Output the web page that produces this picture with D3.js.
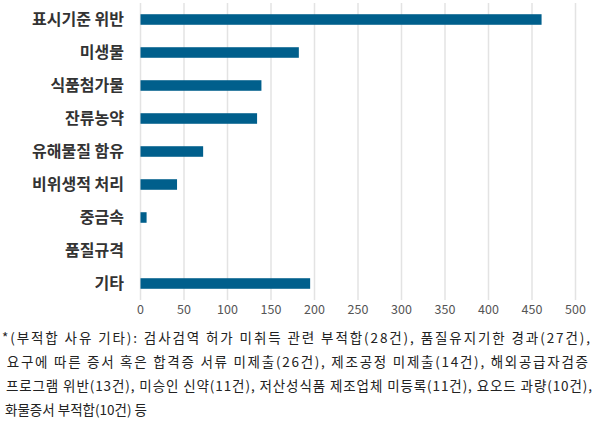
<!DOCTYPE html>
<html><head><meta charset="utf-8">
<script src="https://cdn.jsdelivr.net/npm/d3@7"></script>
<style>body{margin:0;background:#fff}text{font-family:"Noto Sans CJK KR","Noto Sans",sans-serif}</style>
</head><body><svg id="c" width="600" height="433"></svg>
<script>
// categories and counts
var categories = ["표시기준 위반","미생물","식품첨가물","잔류농약","유해물질 함유","비위생적 처리","중금속","품질규격","기타"]
var counts = [461, 182, 139, 134, 72, 42, 7, 0, 195]
var ticks = [0,50,100,150,200,250,300,350,400,450,500]
var notes = [
  "*(부적합 사유 기타): 검사검역 허가 미취득 관련 부적합(28건), 품질유지기한 경과(27건),",
  " 요구에 따른 증서 혹은 합격증 서류 미제출(26건), 제조공정 미제출(14건), 해외공급자검증",
  " 프로그램 위반(13건), 미승인 신약(11건), 저산성식품 제조업체 미등록(11건), 요오드 과량(10건),",
  " 화물증서 부적합(10건) 등"
]

var svg = d3.select("#c")
var x = d3.scaleLinear().domain([0,500]).range([140.5,575.5])
var y = d3.scaleBand().domain(categories).range([3,300]).paddingInner(0.68).paddingOuter(0.34)

// gridlines
svg.append("g").selectAll("line").data(ticks).join("line")
  .attr("x1", d => x(d)).attr("x2", d => x(d))
  .attr("y1", 3).attr("y2", 300)
  .attr("stroke", "#e3e3e3").attr("stroke-width", 1.5)

svg.append("g").selectAll("rect").data(counts).join("rect")
  .attr("x", x(0)).attr("y", (d,i) => y(categories[i]))
  .attr("width", d => x(d) - x(0)).attr("height", y.bandwidth())
  .attr("fill", "#005f8c")

svg.append("g").selectAll("text").data(categories).join("text")
  .attr("x", 124).attr("y", d => y(d) + y.bandwidth()/2)
  .attr("dy", "0.35em").attr("text-anchor", "end")
  .attr("font-size", 16).attr("font-weight", "bold").attr("fill", "#333")
  .text(d => d)

svg.append("g").selectAll("text").data(ticks).join("text")
  .attr("x", d => x(d)).attr("y", 304).attr("dy", "0.8em")
  .attr("text-anchor", "middle").attr("font-size", 12.5).attr("fill", "#555")
  .text(d => d)

svg.append("g").selectAll("text").data(notes).join("text")
  .attr("x", 2).attr("y", (d,i) => 343 + i*24)
  .attr("font-size", 13.5).attr("fill", "#222")
  .attr("textLength", (d,i) => [588, 586, 590, 0][i] || null)
  .attr("lengthAdjust", "spacing")
  .style("white-space", "pre")
  .text(d => d)
</script></body></html>
